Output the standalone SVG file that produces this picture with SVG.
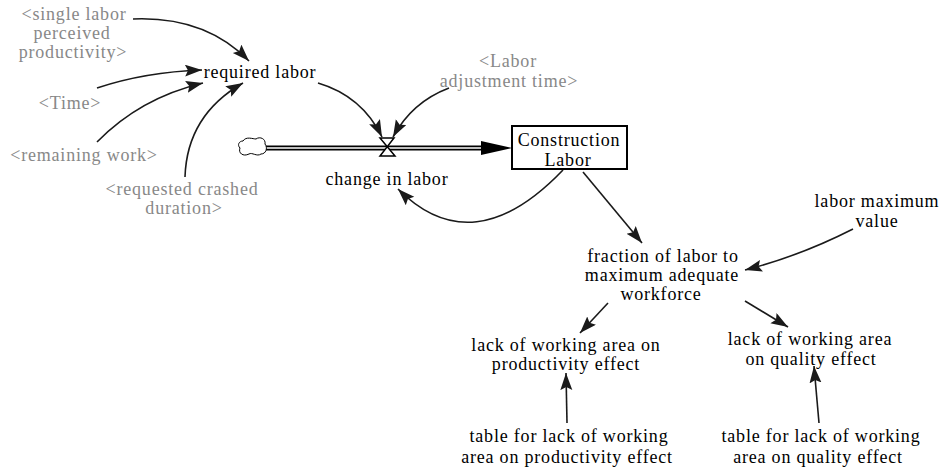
<svg xmlns="http://www.w3.org/2000/svg" width="945" height="472" viewBox="0 0 945 472">
<defs>
<style>
text{font-family:'Liberation Serif','Times New Roman',serif;font-size:18px;letter-spacing:0.8px;text-anchor:middle;fill:#000}
.g{fill:#888}
.c{fill:none;stroke:#1a1a1a;stroke-width:1.6}
</style>
<marker id="ah" markerUnits="userSpaceOnUse" markerWidth="20" markerHeight="14" refX="17" refY="6" orient="auto" viewBox="0 0 20 14">
<path d="M0,0 L17,6 L0,12 L3,6 Z" fill="#1a1a1a"/>
</marker>
</defs>
<rect width="945" height="472" fill="#fff"/>

<g id="connectors">
<path class="c" marker-end="url(#ah)" d="M133,19 Q205,16 249,61"/>
<path class="c" marker-end="url(#ah)" d="M97,88 Q145,72 202,70"/>
<path class="c" marker-end="url(#ah)" d="M97,142 Q140,98 203,83"/>
<path class="c" marker-end="url(#ah)" d="M185,177 Q187,115 243,83"/>
<path class="c" marker-end="url(#ah)" d="M318,83 Q362,96 382,137"/>
<path class="c" marker-end="url(#ah)" d="M449,88 Q412,102 393,137"/>
<path class="c" marker-end="url(#ah)" d="M563,170 Q473,264 398,189"/>
<path class="c" marker-end="url(#ah)" d="M583,172 L642,243"/>
<path class="c" marker-end="url(#ah)" d="M853,229 Q800,256 745,270"/>
<path class="c" marker-end="url(#ah)" d="M608,303 L580,333"/>
<path class="c" marker-end="url(#ah)" d="M745,301 L788,327"/>
<path class="c" marker-end="url(#ah)" d="M567,423 L566,373"/>
<path class="c" marker-end="url(#ah)" d="M819,423 L814,366"/>
</g>

<g id="flow">
<path d="M266,148 H484" stroke="#000" stroke-width="5" fill="none"/>
<path d="M266,148 H486" stroke="#fff" stroke-width="1.6" fill="none"/>
<path d="M481,141 L512,148 L481,155 Z" fill="#000"/>
</g>

<g id="cloud">
<path d="M243,141 C246,136 253,139 256,139 C260,136 266,139 265,144 C268,148 266,154 261,154 C257,157 252,152 249,154 C243,157 238,153 240,148 C237,145 239,141 243,141 Z" fill="#fff" stroke="#000" stroke-width="1"/>
</g>

<g id="change_in_labor">
<path d="M380,138 H394 L380,156 H395 Z" fill="#fff" stroke="#000" stroke-width="1.5"/>
<text x="387" y="185">change in labor</text>
</g>

<g id="construction_labor">
<rect x="512" y="126" width="115" height="43" fill="#fff" stroke="#000" stroke-width="2"/>
<text x="569" y="146">Construction</text>
<text x="568" y="166">Labor</text>
</g>

<g id="required_labor">
<text x="260" y="78">required labor</text>
</g>

<g id="single_labor_perceived_productivity">
<text class="g" x="74" y="20">&lt;single labor</text>
<text class="g" x="72" y="39">perceived</text>
<text class="g" x="73" y="58">productivity&gt;</text>
</g>

<g id="time">
<text class="g" x="70" y="109">&lt;Time&gt;</text>
</g>

<g id="remaining_work">
<text class="g" x="84" y="161">&lt;remaining work&gt;</text>
</g>

<g id="requested_crashed_duration">
<text class="g" x="182" y="195">&lt;requested crashed</text>
<text class="g" x="184" y="214">duration&gt;</text>
</g>

<g id="labor_adjustment_time">
<text class="g" x="508" y="67">&lt;Labor</text>
<text class="g" x="509" y="87">adjustment time&gt;</text>
</g>

<g id="labor_maximum_value">
<text x="877" y="207">labor maximum</text>
<text x="877" y="227">value</text>
</g>

<g id="fraction_of_labor">
<text x="663" y="262">fraction of labor to</text>
<text x="662" y="281">maximum adequate</text>
<text x="661" y="300">workforce</text>
</g>

<g id="lack_productivity">
<text x="566" y="351">lack of working area on</text>
<text x="566" y="370">productivity effect</text>
</g>

<g id="lack_quality">
<text x="810" y="345">lack of working area</text>
<text x="811" y="365">on quality effect</text>
</g>

<g id="table_productivity">
<text x="569" y="442">table for lack of working</text>
<text x="567" y="463">area on productivity effect</text>
</g>

<g id="table_quality">
<text x="821" y="442">table for lack of working</text>
<text x="818" y="463">area on quality effect</text>
</g>
</svg>
